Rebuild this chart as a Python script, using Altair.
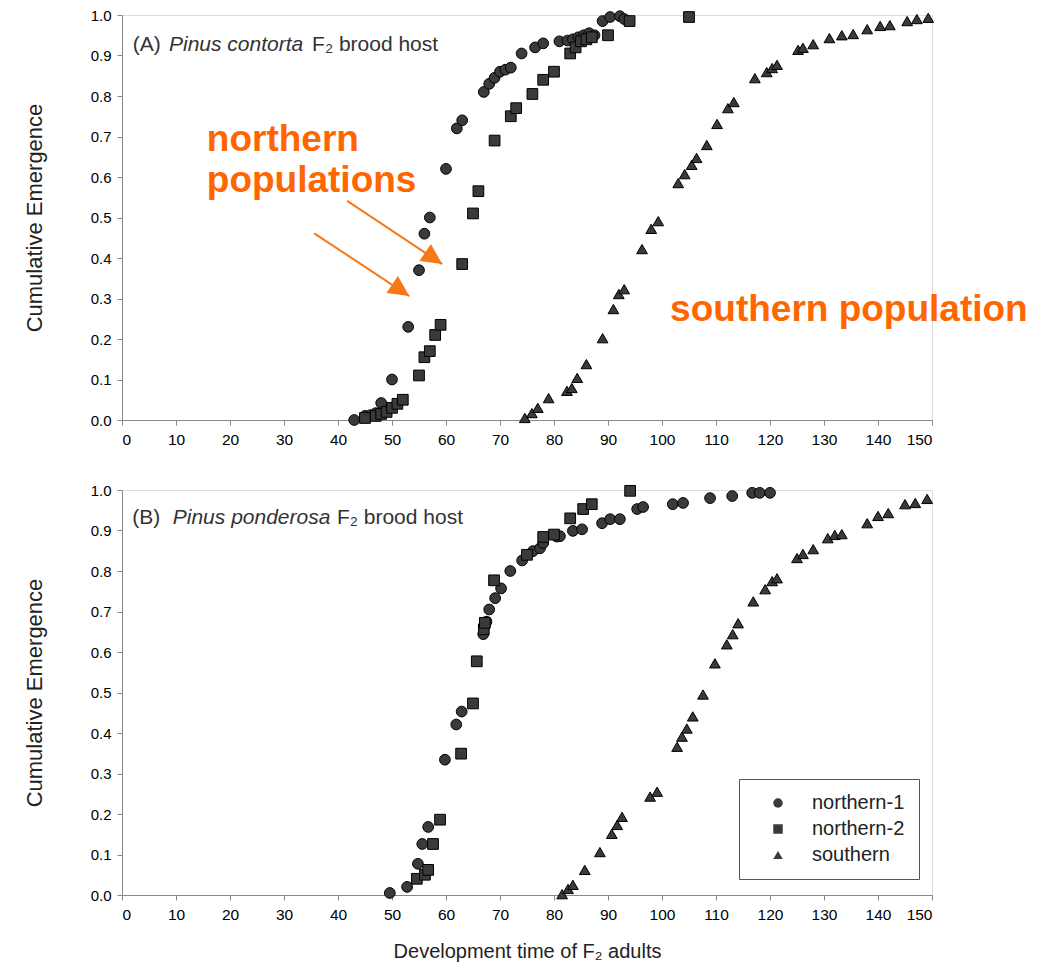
import altair as alt
import pandas as pd

SERIES = ["northern-1", "northern-2", "southern"]
X_TICKS = list(range(0, 151, 10))
Y_TICKS = [round(i * 0.1, 1) for i in range(11)]

# ---- Panel A: Pinus contorta F2 brood host ----
a_n1_x = [43, 45, 46, 47, 48, 50, 53, 55, 56, 57, 60, 62, 63, 67, 68, 69, 70, 71, 72,
          74, 76.5, 78, 81, 82.5, 83.5, 84.5, 85.5, 86.5, 87.5, 89, 90.4, 92.2, 93]
a_n1_y = [0.0, 0.01, 0.012, 0.017, 0.042, 0.10, 0.23, 0.37, 0.46, 0.50, 0.62, 0.72, 0.74,
          0.81, 0.83, 0.845, 0.86, 0.865, 0.87, 0.905, 0.92, 0.93, 0.935, 0.937, 0.94, 0.945,
          0.95, 0.955, 0.95, 0.985, 0.995, 0.997, 0.99]
a_n2_x = [45, 47, 48, 49, 50, 51, 52, 55, 56, 57, 58, 59, 63, 65, 66, 69, 72, 73, 76, 78,
          80, 83, 84, 85, 86, 87, 90, 94, 105]
a_n2_y = [0.005, 0.01, 0.015, 0.02, 0.03, 0.04, 0.05, 0.11, 0.155, 0.17, 0.21, 0.235, 0.385,
          0.51, 0.565, 0.69, 0.75, 0.77, 0.805, 0.84, 0.86, 0.905, 0.92, 0.935, 0.94, 0.945,
          0.95, 0.985, 0.995]
a_s_x = [74.6, 75.9, 77, 79, 82.4, 83.3, 84.3, 86, 89, 91, 92, 93, 96.3, 98, 99.3, 103,
         104.2, 105.5, 106.4, 108.3, 110.2, 112.2, 113.3, 117.2, 119.4, 120.4, 121.3, 125.2,
         126.1, 128, 131, 133.3, 135.4, 138, 140.4, 142.2, 145.4, 147.2, 149.3]
a_s_y = [0.005, 0.017, 0.03, 0.054, 0.072, 0.079, 0.104, 0.138, 0.202, 0.274, 0.311, 0.323,
         0.422, 0.472, 0.491, 0.585, 0.607, 0.63, 0.647, 0.679, 0.731, 0.77, 0.785, 0.844,
         0.859, 0.869, 0.877, 0.914, 0.919, 0.928, 0.943, 0.95, 0.953, 0.965, 0.973, 0.975,
         0.985, 0.99, 0.993]

# ---- Panel B: Pinus ponderosa F2 brood host ----
b_n1_x = [49.6, 52.8, 54.8, 55.6, 56.7, 59.8, 61.9, 62.9, 66.9, 67.5, 68, 69.1, 70.2, 71.9,
          74.1, 76.1, 77.4, 78, 80.5, 81.1, 83.5, 85.2, 88.9, 90.4, 92.2, 95.4, 96.5, 102,
          103.9, 108.9, 113, 116.7, 118.1, 120]
b_n1_y = [0.005, 0.02, 0.077, 0.126, 0.168, 0.334, 0.421, 0.453, 0.644, 0.675, 0.705, 0.733,
          0.757, 0.80, 0.826, 0.849, 0.856, 0.869, 0.885, 0.886, 0.899, 0.903, 0.918, 0.928,
          0.928, 0.953, 0.958, 0.965, 0.968, 0.98, 0.985, 0.993, 0.993, 0.993]
b_n2_x = [54.6, 56.1, 56.7, 57.6, 58.9, 62.8, 65, 65.7, 67, 67.2, 68.9, 75, 78, 80, 83,
          85.4, 87, 94.1]
b_n2_y = [0.04, 0.05, 0.062, 0.126, 0.186, 0.349, 0.473, 0.577, 0.656, 0.672, 0.777, 0.84,
          0.884, 0.89, 0.93, 0.953, 0.965, 0.998]
b_s_x = [81.5, 82.6, 83.5, 85.7, 88.5, 90.7, 91.7, 92.6, 97.8, 99.1, 102.8, 103.7, 104.6,
         105.7, 107.6, 109.8, 112, 113.1, 114.1, 116.9, 119.1, 120.4, 121.3, 125, 126.1, 128,
         130.7, 132, 133.3, 138, 140, 141.9, 145, 146.9, 149.1]
b_s_y = [0.002, 0.015, 0.025, 0.062, 0.106, 0.151, 0.173, 0.193, 0.243, 0.255, 0.366, 0.391,
         0.411, 0.441, 0.495, 0.572, 0.619, 0.644, 0.671, 0.725, 0.755, 0.775, 0.782, 0.832,
         0.842, 0.854, 0.881, 0.889, 0.891, 0.918, 0.936, 0.943, 0.965, 0.968, 0.978]

# Panel heading pieces: (x, y, text, style)
A_HEAD = [(2.0, 0.911, "(A)", "normal"), (8.7, 0.911, "Pinus contorta", "italic"),
          (35.2, 0.911, "F\u2082 brood host", "normal")]
B_HEAD = [(1.9, 0.916, "(B)", "normal"), (9.4, 0.916, "Pinus ponderosa", "italic"),
          (39.8, 0.916, "F\u2082 brood host", "normal")]

# Orange annotations (panel A)
NOTE_TEXT = [(15.7, 0.664, "northern"), (15.7, 0.563, "populations"),
             (101.5, 0.244, "southern population")]
ARROW_X0 = [41.7, 35.6]
ARROW_Y0 = [0.541, 0.461]
ARROW_X1 = [59.3, 53.2]
ARROW_Y1 = [0.385, 0.306]

ORANGE = "#FF6600"
ARROW_COLOR = "#F5791A"
FONT = "Liberation Sans, Arial, sans-serif"


def frame(xs, ys, name):
    return pd.DataFrame({"time": xs, "emergence": ys, "population": name})


def panel(points_df, head, legend, xtitle, notes=False):
    if xtitle is None:
        x_axis = alt.Axis(values=X_TICKS, title=None, grid=False, labelFontSize=15.5,
                          labelPadding=7)
    else:
        x_axis = alt.Axis(values=X_TICKS, title=xtitle, grid=False, labelFontSize=15.5,
                          labelPadding=7, titlePadding=19, titleFontSize=20,
                          titleFontWeight="normal", titleColor="#222")
    xs = alt.X("time:Q", scale=alt.Scale(domain=[0, 150], nice=False, zero=False), axis=x_axis)
    ys = alt.Y("emergence:Q", scale=alt.Scale(domain=[0, 1], nice=False),
               axis=alt.Axis(values=Y_TICKS, format=".1f", title="Cumulative Emergence",
                             grid=False, labelFontSize=15, labelPadding=6, titlePadding=44,
                             titleFontSize=22, titleFontWeight="normal", titleColor="#222"))
    pts = alt.Chart(points_df).mark_point(
        filled=True, fill="#3a3a3a", stroke="#000", strokeWidth=1, opacity=1, size=115
    ).encode(
        x=xs, y=ys,
        shape=alt.Shape("population:N",
                        scale=alt.Scale(domain=SERIES, range=["circle", "square", "triangle-up"]),
                        legend=legend),
    )
    layers = [pts]
    for hx, hy, txt, style in head:
        hdf = pd.DataFrame({"time": [hx], "emergence": [hy], "label": [txt]})
        layers.append(
            alt.Chart(hdf).mark_text(align="left", baseline="alphabetic", fontSize=21,
                                     fontStyle=style, font=FONT, color="#333")
            .encode(x=alt.X("time:Q"), y=alt.Y("emergence:Q"), text="label:N")
        )
    if notes:
        ndf = pd.DataFrame({"time": [n[0] for n in NOTE_TEXT],
                            "emergence": [n[1] for n in NOTE_TEXT],
                            "label": [n[2] for n in NOTE_TEXT]})
        layers.append(
            alt.Chart(ndf).mark_text(align="left", baseline="alphabetic", fontSize=37,
                                     fontWeight="bold", font=FONT, color=ORANGE)
            .encode(x="time:Q", y="emergence:Q", text="label:N")
        )
        adf = pd.DataFrame({"time": ARROW_X0, "emergence": ARROW_Y0,
                            "time2": ARROW_X1, "emergence2": ARROW_Y1})
        layers.append(
            alt.Chart(adf).mark_rule(color=ARROW_COLOR, strokeWidth=2)
            .encode(x="time:Q", y="emergence:Q", x2="time2:Q", y2="emergence2:Q")
        )
        hdf = pd.DataFrame({"time": ARROW_X1, "emergence": ARROW_Y1})
        layers.append(
            alt.Chart(hdf).mark_point(shape="M0,0L-0.5,1L0.5,1Z", filled=True,
                                      fill=ARROW_COLOR, opacity=1, size=1700, angle=124)
            .encode(x="time:Q", y="emergence:Q")
        )
    return alt.layer(*layers).properties(width=810, height=405)


df_a = pd.concat([frame(a_n1_x, a_n1_y, "northern-1"), frame(a_n2_x, a_n2_y, "northern-2"),
                  frame(a_s_x, a_s_y, "southern")])
df_b = pd.concat([frame(b_n1_x, b_n1_y, "northern-1"), frame(b_n2_x, b_n2_y, "northern-2"),
                  frame(b_s_x, b_s_y, "southern")])

legend_b = alt.Legend(title=None, orient="none", legendX=617, legendY=289, labelFontSize=20,
                      labelFont=FONT, labelColor="#222", symbolSize=90,
                      symbolFillColor="#3a3a3a", symbolStrokeColor="#000",
                      symbolStrokeWidth=1, strokeColor="#555", fillColor="white",
                      padding=14, rowPadding=6, symbolOffset=15, labelOffset=24)

top = panel(df_a, A_HEAD, None, None, notes=True)
bottom = panel(df_b, B_HEAD, legend_b, "Development time of F\u2082 adults")

chart = alt.vconcat(top, bottom, spacing=70, bounds="flush").resolve_scale(
    shape="independent").resolve_legend(shape="independent").properties(
    padding={"left": 14, "top": -1, "right": 0, "bottom": 0}
).configure_view(
    stroke="#888", strokeWidth=1.5
).configure_axis(
    domainColor="#777", tickColor="#777", tickSize=6, labelColor="#333",
    labelFont=FONT, titleFont=FONT, domainWidth=1.5
).configure(background="white")

chart.save("out.html", embed_options={"renderer": "svg", "actions": False})
